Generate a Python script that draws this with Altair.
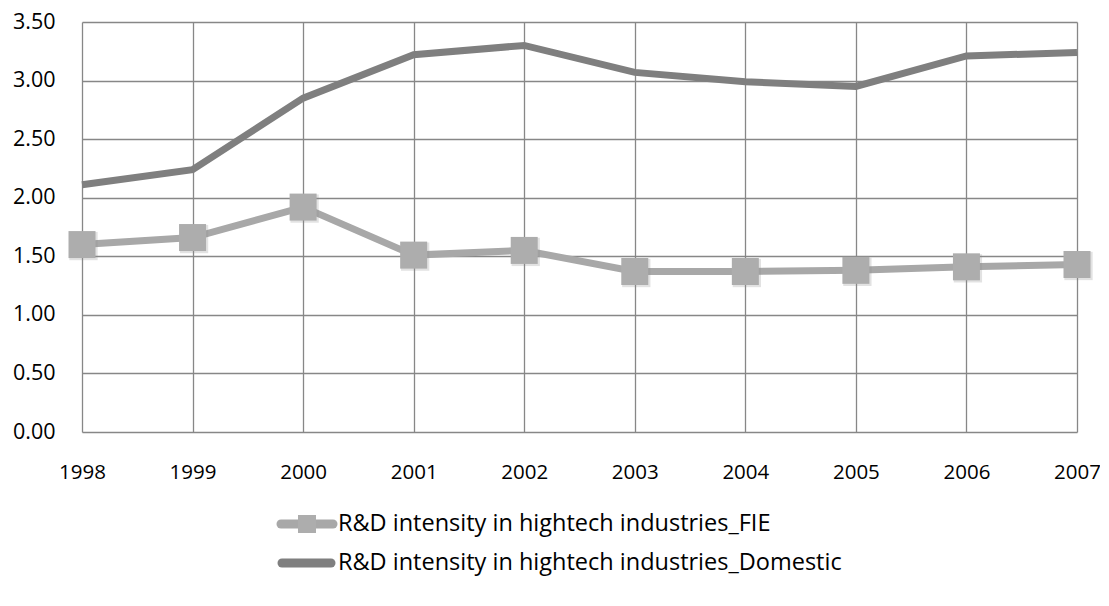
import altair as alt
import pandas as pd

years = [1998, 1999, 2000, 2001, 2002, 2003, 2004, 2005, 2006, 2007]
fie = [1.60, 1.66, 1.92, 1.51, 1.55, 1.37, 1.37, 1.38, 1.41, 1.43]
domestic = [2.11, 2.24, 2.85, 3.22, 3.30, 3.07, 2.99, 2.95, 3.21, 3.24]
series_names = ["R&D intensity in hightech industries_FIE",
                "R&D intensity in hightech industries_Domestic"]
y_ticks = [0, 0.5, 1.0, 1.5, 2.0, 2.5, 3.0, 3.5]

df = pd.DataFrame({"year": years, "FIE": fie, "Domestic": domestic})

FONT = "Open Sans"
GRID = "#878787"
C_FIE = "#A8A8A8"
C_DOM = "#7F7F7F"

xenc = alt.X("year:Q", scale=alt.Scale(domain=[1998, 2007], nice=False, zero=False),
             axis=alt.Axis(values=years, format="d", title=None, grid=True, gridColor=GRID,
                           gridWidth=1.3, domain=False, ticks=False, labelFont=FONT,
                           labelFontSize=20.5, labelColor="#000", labelPadding=40,
                           labelBaseline="middle", labelFlush=False))
yscale = alt.Scale(domain=[0, 3.5], nice=False)
yaxis = alt.Axis(values=y_ticks, format=".2f", title=None, grid=True, gridColor=GRID,
                 gridWidth=1.3, domain=False, ticks=False, labelFont=FONT,
                 labelFontSize=21.5, labelColor="#000", labelPadding=27)

base = alt.Chart(df)

dom_line = base.mark_line(color=C_DOM, strokeWidth=7).encode(
    x=xenc, y=alt.Y("Domestic:Q", scale=yscale, axis=yaxis))
fie_line = base.mark_line(color=C_FIE, strokeWidth=7).encode(
    x=xenc, y=alt.Y("FIE:Q", scale=yscale, axis=yaxis))
fie_shadow = base.mark_point(shape="square", filled=True, size=800, color="#8a8a8a",
                             opacity=0.25, xOffset=1.5, yOffset=1.5).encode(
    x=xenc, y=alt.Y("FIE:Q", scale=yscale, axis=yaxis))
fie_pts = base.mark_point(shape="square", filled=True, size=729, color="#ADADAD",
                          opacity=1).encode(
    x=xenc, y=alt.Y("FIE:Q", scale=yscale, axis=yaxis))

leg_df = pd.DataFrame({"label": series_names})
leg1 = alt.Chart(leg_df.iloc[[0]])
leg2 = alt.Chart(leg_df.iloc[[1]])

l1_line = leg1.mark_rule(color=C_FIE, strokeWidth=9, strokeCap="round").encode(
    x=alt.value(199), x2=alt.value(251), y=alt.value(502))
l1_sq = leg1.mark_point(shape="square", filled=True, size=324, color="#ADADAD", opacity=1).encode(
    x=alt.value(225), y=alt.value(502))
l1_txt = leg1.mark_text(align="left", baseline="middle", font=FONT, fontSize=23.5, color="#000").encode(
    x=alt.value(256), y=alt.value(502), text="label:N")
l2_line = leg2.mark_rule(color=C_DOM, strokeWidth=9, strokeCap="round").encode(
    x=alt.value(200), x2=alt.value(249), y=alt.value(541))
l2_txt = leg2.mark_text(align="left", baseline="middle", font=FONT, fontSize=23.5, color="#000").encode(
    x=alt.value(256), y=alt.value(541), text="label:N")

chart = alt.layer(dom_line, fie_line, fie_shadow, fie_pts,
                  l1_line, l1_sq, l1_txt, l2_line, l2_txt).properties(
    width=995, height=410,
    autosize=alt.AutoSizeParams(type="none"),
    padding={"left": 74, "top": 14, "right": 23, "bottom": 150},
    background="white",
).configure_view(stroke=None)

chart.save("out.html", embed_options={"renderer": "svg", "actions": False})
